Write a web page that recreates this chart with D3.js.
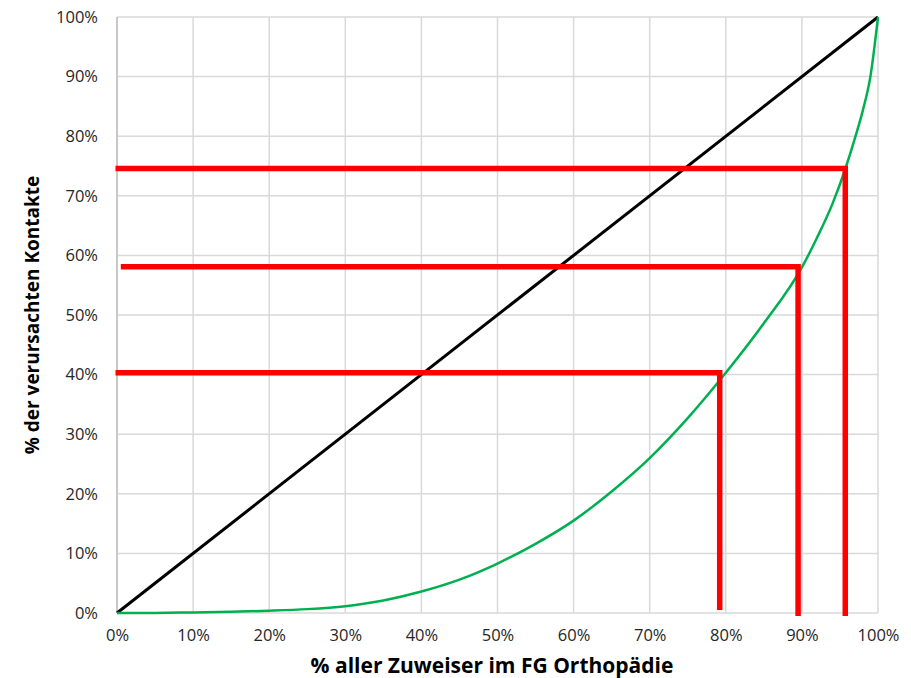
<!DOCTYPE html>
<html><head><meta charset="utf-8">
<script src="https://cdn.jsdelivr.net/npm/d3@7"></script>
<style>body{margin:0;background:#fff;} text{font-family:"Open Sans","Noto Sans",sans-serif;}</style>
</head><body>
<svg id="c" width="911" height="678"></svg>
<script>
const ticks = [0,10,20,30,40,50,60,70,80,90,100];
const diagX = [0,100];
const diagY = [0,100];
const curveX = [0,5,10,15,20,25,30,35,40,45,50,55,60,65,70,75,80,85,90,92,94,95.7,97,98,99,100];
const curveY = [0,0.02,0.1,0.2,0.38,0.65,1.15,2.1,3.6,5.6,8.3,11.6,15.5,20.4,26,32.7,40.3,48.6,58,63,68.6,74.5,79.8,84.3,90,100];
// red markers: horizontal start x, vertical x, y level, vertical bottom
const markStartX = [-0.2, 0.5, -0.2];
const markX = [95.7, 89.5, 79.2];
const markY = [74.6, 58.1, 40.3];
const markBottom = [-0.5, -0.5, 0.5];

const svg = d3.select("#c");
const x = d3.scaleLinear().domain([0,100]).range([117,878]);
const y = d3.scaleLinear().domain([0,100]).range([613,17]);
const fmt = d => d + "%";

svg.append("g").selectAll("line").data(ticks).join("line")
  .attr("x1", d=>x(d)).attr("x2", d=>x(d)).attr("y1", y(0)).attr("y2", y(100))
  .attr("stroke", "#d9d9d9").attr("stroke-width", 1.5);
svg.append("g").selectAll("line").data(ticks).join("line")
  .attr("x1", x(0)).attr("x2", x(100)).attr("y1", d=>y(d)).attr("y2", d=>y(d))
  .attr("stroke", "#d9d9d9").attr("stroke-width", 1.5);
svg.append("line").attr("x1", x(0)).attr("x2", x(0)).attr("y1", y(0)).attr("y2", y(100))
  .attr("stroke", "#bfbfbf").attr("stroke-width", 1.5);

const xAxis = svg.append("g").attr("transform", `translate(0,${y(0)})`)
  .call(d3.axisBottom(x).tickValues(ticks).tickFormat(fmt).tickSize(0).tickPadding(16));
const yAxis = svg.append("g").attr("transform", `translate(${x(0)},0)`)
  .call(d3.axisLeft(y).tickValues(ticks).tickFormat(fmt).tickSize(0).tickPadding(19));
[xAxis, yAxis].forEach(g => {
  g.select(".domain").remove();
  g.selectAll("text").attr("font-family", "'Open Sans', sans-serif").attr("font-size", 16.5).attr("fill", "#262626");
});

const line = d3.line().x(d=>x(d[0])).y(d=>y(d[1]));
svg.append("path").datum(diagX.map((v,i)=>[v,diagY[i]])).attr("d", line)
  .attr("fill","none").attr("stroke","#000").attr("stroke-width",3);
svg.append("path").datum(curveX.map((v,i)=>[v,curveY[i]])).attr("d", line.curve(d3.curveMonotoneX))
  .attr("fill","none").attr("stroke","#00b050").attr("stroke-width",2.5);

const markers = markX.map((v,i)=>({sx:markStartX[i], x:v, y:markY[i], b:markBottom[i]}));
svg.append("g").selectAll("path").data(markers).join("path")
  .attr("d", d => `M${x(d.sx)},${y(d.y)}H${x(d.x)}V${y(d.b)}`)
  .attr("fill","none").attr("stroke","#ff0000").attr("stroke-width",5.5).attr("stroke-linejoin","miter");

svg.append("text").attr("x", 492).attr("y", 673).attr("text-anchor","middle")
  .attr("font-size", 21).attr("font-weight","bold").attr("fill","#000")
  .text("% aller Zuweiser im FG Orthopädie");
svg.append("text").attr("transform","translate(39,315) rotate(-90)").attr("text-anchor","middle")
  .attr("font-size", 19).attr("font-weight","bold").attr("fill","#000")
  .text("% der verursachten Kontakte");
</script>
</body></html>
